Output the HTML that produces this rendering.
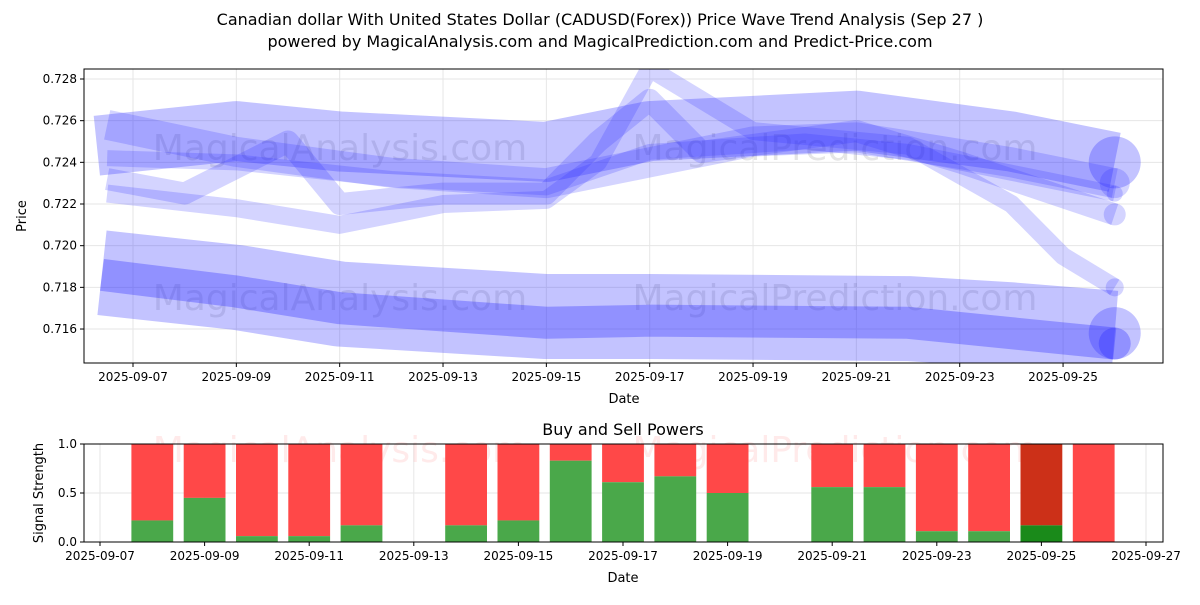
<!DOCTYPE html>
<html><head><meta charset="utf-8"><style>
body{margin:0;background:#fff;font-family:"Liberation Sans",sans-serif}
svg text{font-family:"DejaVu Sans","Liberation Sans",sans-serif}
</style></head><body>
<svg id="c" width="1200" height="600" xmlns="http://www.w3.org/2000/svg">
<text x="600" y="25" text-anchor="middle" font-size="16">Canadian dollar With United States Dollar (CADUSD(Forex)) Price Wave Trend Analysis (Sep 27 )</text>
<text x="600" y="47" text-anchor="middle" font-size="16">powered by MagicalAnalysis.com and MagicalPrediction.com and Predict-Price.com</text>
<g id="main"></g>
<g id="sub"></g>
</svg>
<script>
const upperSeries = [
 [[6.3,0.7248],[9,0.7255],[11,0.7250],[15,0.7245],[17,0.7255],[21,0.7260],[24,0.7250],[26,0.7240]],
 [[6.5,0.7258],[9,0.7245],[12,0.7235],[15,0.7230],[17,0.7240],[19,0.7250],[21,0.7252],[24,0.7240],[26,0.7230]],
 [[6.5,0.7232],[8,0.7225],[10,0.7250],[11,0.7220],[13,0.7225],[15,0.7225],[16,0.7250],[17,0.7270],[18,0.7245],[21,0.7255],[23,0.7240],[26,0.7215]],
 [[6.5,0.7242],[9,0.7240],[12,0.7232],[15,0.7228],[17,0.7245],[20,0.7250],[22,0.7245],[24,0.7235],[26,0.7225]],
 [[6.5,0.7225],[9,0.7218],[11,0.7210],[13,0.7220],[15,0.7222],[16,0.7240],[17,0.7285],[19,0.7255],[22,0.7248],[24,0.7220],[25,0.7195],[26,0.7180]]
];
const upperWidths = [60,30,22,16,18];
const lowerSeries = [
 [[6.4,0.7187],[9,0.7180],[11,0.7172],[15,0.7166],[17,0.7166],[22,0.7165],[24,0.7162],[26,0.7158]],
 [[6.4,0.7186],[9,0.7178],[11,0.7170],[15,0.7163],[17,0.7164],[22,0.7163],[24,0.7158],[26,0.7153]]
];
const lowerWidths = [85,32];
const yTicks = [0.716,0.718,0.720,0.722,0.724,0.726,0.728];
const xTickDays = [7,9,11,13,15,17,19,21,23,25];
const barDays = [8,9,10,11,12,14,15,16,17,18,19,21,22,23,24,25,26];
const buyValues = [0.22,0.45,0.06,0.06,0.17,0.17,0.22,0.83,0.61,0.67,0.5,0.56,0.56,0.11,0.11,0.17,0];
const subXTickDays = [7,9,11,13,15,17,19,21,23,25,27];
const subYTicks = [0,0.5,1.0];

const NS="http://www.w3.org/2000/svg";
function mk(p,t,a){const e=document.createElementNS(NS,t);for(const k in a)e.setAttribute(k,a[k]);p.appendChild(e);return e;}
const M={l:84,r:1163,t:69,b:363};
const xm=d=>133+(d-7)*51.67;
const ym=v=>79+(0.728-v)/0.002*41.67;
const main=document.getElementById('main');
mk(main,'rect',{x:M.l,y:M.t,width:M.r-M.l,height:M.b-M.t,fill:'#fff'});
const cp=mk(main,'clipPath',{id:'cm'});mk(cp,'rect',{x:M.l,y:M.t,width:M.r-M.l,height:M.b-M.t});
yTicks.forEach(v=>{const g=mk(main,'line',{x1:M.l,x2:M.r,y1:ym(v),y2:ym(v),stroke:'#e6e6e6'});

mk(main,'line',{x1:M.l-4,x2:M.l,y1:ym(v),y2:ym(v),stroke:'#000'});
const t=mk(main,'text',{x:M.l-7,y:ym(v)+4,'text-anchor':'end','font-size':12});t.textContent=v.toFixed(3);
});
xTickDays.forEach(d=>{mk(main,'line',{x1:xm(d),x2:xm(d),y1:M.t,y2:M.b,stroke:'#e6e6e6'});
mk(main,'line',{x1:xm(d),x2:xm(d),y1:M.b,y2:M.b+4,stroke:'#000'});
const t=mk(main,'text',{x:xm(d),y:M.b+18,'text-anchor':'middle','font-size':12});t.textContent='2025-09-'+String(d).padStart(2,'0');
});
const wm=[['MagicalAnalysis.com',340,160],['MagicalPrediction.com',835,160],['MagicalAnalysis.com',340,310],['MagicalPrediction.com',835,310]];
wm.forEach(w=>{const t=mk(main,'text',{x:w[1],y:w[2],'text-anchor':'middle','font-size':36,fill:'rgba(150,150,150,0.25)'});t.textContent=w[0];
});
const gm=mk(main,'g',{'clip-path':'url(#cm)'});
function band(s,w,op){const p=mk(gm,'polyline',{points:s.map(q=>xm(q[0])+','+ym(q[1])).join(' '),fill:'none',stroke:'rgba(40,40,255,'+op+')','stroke-width':w,'stroke-linejoin':'round','stroke-linecap':'butt'});

const l=s[s.length-1];mk(gm,'circle',{cx:xm(l[0]),cy:ym(l[1]),r:Math.min(w/2,26),fill:'rgba(40,40,255,'+op+')'});}
upperSeries.forEach((s,i)=>band(s,upperWidths[i],i==0?0.28:0.2));
lowerSeries.forEach((s,i)=>band(s,lowerWidths[i],i==0?0.28:0.32));
mk(main,'rect',{x:M.l,y:M.t,width:M.r-M.l,height:M.b-M.t,fill:'none',stroke:'#000'});
let t=mk(main,'text',{x:624,y:403,'text-anchor':'middle','font-size':13});t.textContent='Date';

t=mk(main,'text',{x:26,y:216,'text-anchor':'middle','font-size':13,transform:'rotate(-90 26 216)'});t.textContent='Price';


const S={l:84,r:1163,t:444,b:542};
const xs=d=>100+(d-7)*52.3;
const ys=v=>S.b-v*(S.b-S.t);
const sub=document.getElementById('sub');
t=mk(sub,'text',{x:623,y:435,'text-anchor':'middle','font-size':16});t.textContent='Buy and Sell Powers';

subYTicks.forEach(v=>{mk(sub,'line',{x1:S.l,x2:S.r,y1:ys(v),y2:ys(v),stroke:'#e6e6e6'});
mk(sub,'line',{x1:S.l-4,x2:S.l,y1:ys(v),y2:ys(v),stroke:'#000'});
const q=mk(sub,'text',{x:S.l-7,y:ys(v)+4,'text-anchor':'end','font-size':12});q.textContent=v.toFixed(1);
});
subXTickDays.forEach(d=>{mk(sub,'line',{x1:xs(d),x2:xs(d),y1:S.t,y2:S.b,stroke:'#e6e6e6'});
mk(sub,'line',{x1:xs(d),x2:xs(d),y1:S.b,y2:S.b+4,stroke:'#000'});
const q=mk(sub,'text',{x:xs(d),y:S.b+18,'text-anchor':'middle','font-size':12});q.textContent='2025-09-'+String(d).padStart(2,'0');
});
[['MagicalAnalysis.com',340,462],['MagicalPrediction.com',835,462]].forEach(w=>{const q=mk(sub,'text',{x:w[1],y:w[2],'text-anchor':'middle','font-size':36,fill:'rgba(255,150,150,0.2)'});q.textContent=w[0];
});
barDays.forEach((d,i)=>{const bw=41.8,x=xs(d)-bw/2,v=buyValues[i];const last=d==25;
const r=mk(sub,'rect',{x:x,y:ys(1),width:bw,height:ys(v)-ys(1),fill:last?'#cc3018':'#ff4848'});

const g=mk(sub,'rect',{x:x,y:ys(v),width:bw,height:ys(0)-ys(v),fill:last?'#1a8a1a':'#4aa84a'});
});
mk(sub,'rect',{x:S.l,y:S.t,width:S.r-S.l,height:S.b-S.t,fill:'none',stroke:'#000'});
t=mk(sub,'text',{x:623,y:582,'text-anchor':'middle','font-size':13});t.textContent='Date';

t=mk(sub,'text',{x:43,y:493,'text-anchor':'middle','font-size':13,transform:'rotate(-90 43 493)'});t.textContent='Signal Strength';

</script>
</body></html>
